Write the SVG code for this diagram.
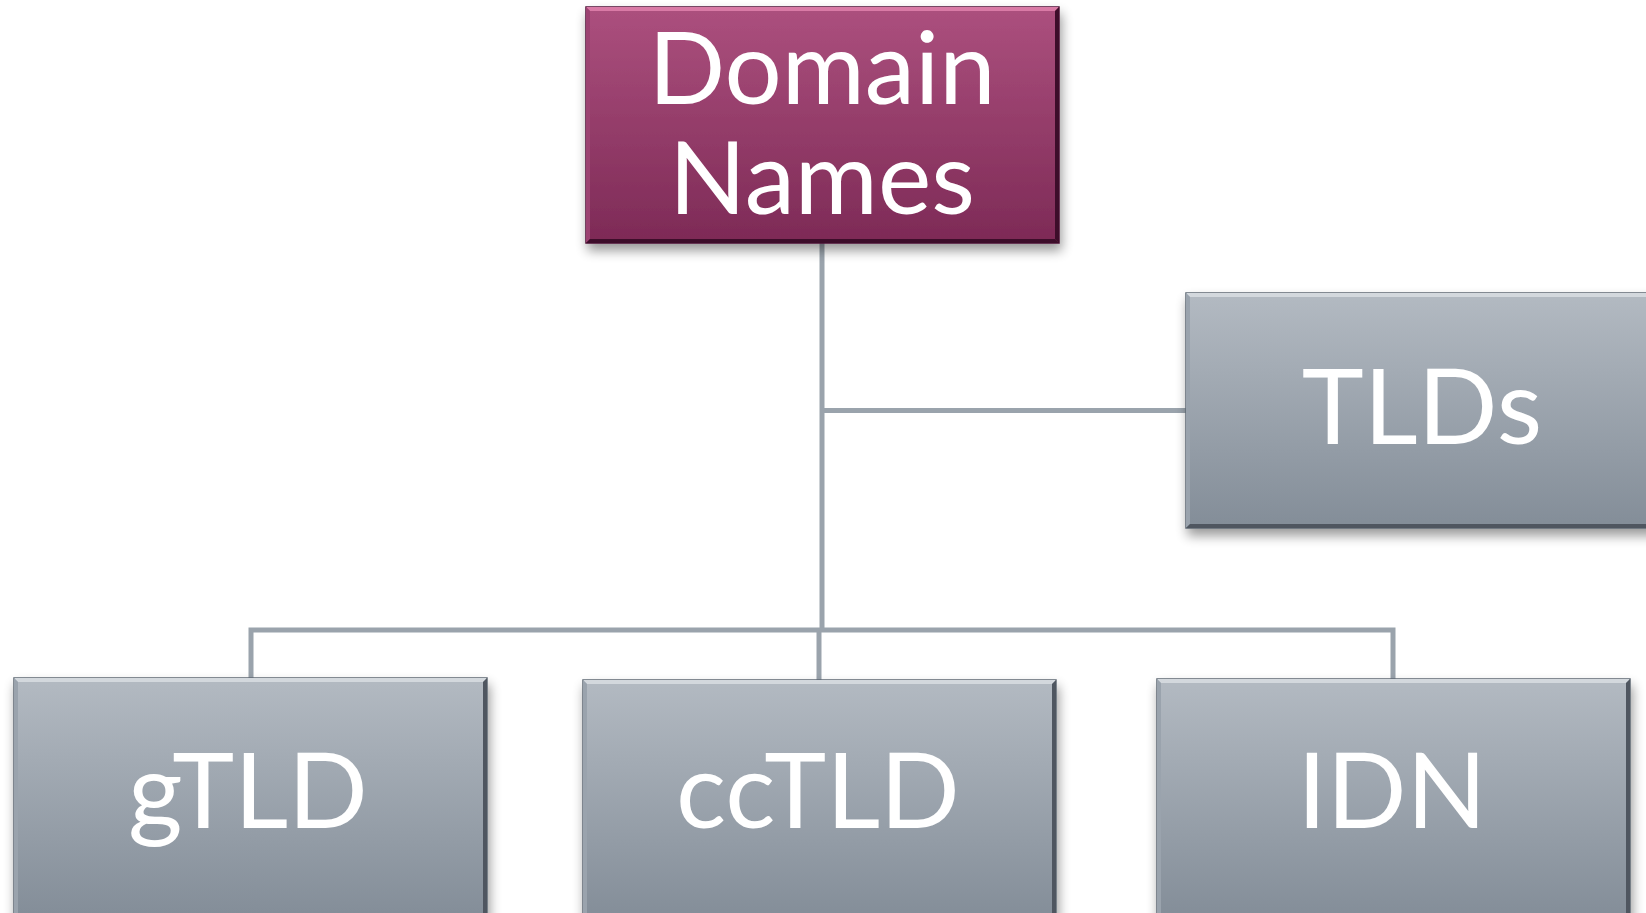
<svg xmlns="http://www.w3.org/2000/svg" width="1646" height="913" viewBox="0 0 1646 913">
  <defs>
    <linearGradient id="gradGray" x1="0" y1="0" x2="0" y2="1">
      <stop offset="0" stop-color="#b3bac2"/>
      <stop offset="1" stop-color="#838d98"/>
    </linearGradient>
    <linearGradient id="gradPlum" x1="0" y1="0" x2="0" y2="1">
      <stop offset="0" stop-color="#ac507e"/>
      <stop offset="1" stop-color="#7d2a56"/>
    </linearGradient>
    <filter id="shadow" x="-10%" y="-10%" width="120%" height="130%">
      <feGaussianBlur in="SourceAlpha" stdDeviation="6"/>
      <feOffset dx="2" dy="7" result="blur"/>
      <feComponentTransfer><feFuncA type="linear" slope="0.4"/></feComponentTransfer>
      <feMerge><feMergeNode/><feMergeNode in="SourceGraphic"/></feMerge>
    </filter>
  </defs>
  <style>
    .label { font-family: "Lato", "Open Sans", "Liberation Sans", sans-serif; font-size: 105px; fill: #ffffff; text-anchor: middle; }
    .root { font-size: 101px; }
    .wire { fill: none; stroke: #9aa3ac; stroke-width: 5; }
    .gray .face { fill: url(#gradGray); stroke: #5e6771; stroke-width: 1.5; }
    .gray .hi { fill: #d3d8dd; }
    .gray .side { fill: #9aa3ad; }
    .gray .lo { fill: #4f5760; }
    .plum .face { fill: url(#gradPlum); stroke: #4e1535; stroke-width: 1.5; }
    .plum .hi { fill: #d97aa6; }
    .plum .side { fill: #9c4272; }
    .plum .lo { fill: #3d0f29; }
  </style>

  <rect width="1646" height="913" fill="#ffffff"/>

  <!-- connectors -->
  <g id="connectors">
    <path class="wire" d="M822 243 V630"/>
    <path class="wire" d="M822 410.5 H1186"/>
    <path class="wire" d="M251 678 V630 H1393 V679"/>
    <path class="wire" d="M819 630 V680"/>
  </g>

  <!-- root node -->
  <g id="node-domain-names" class="plum" filter="url(#shadow)">
    <rect class="face" x="586" y="7" width="473" height="236"/>
    <polygon class="hi" points="586,7 1059,7 1055,11 590,11"/>
    <polygon class="side" points="586,7 590,11 590,239 586,243"/>
    <polygon class="lo" points="1059,7 1059,243 1055,239 1055,11"/>
    <polygon class="lo" points="586,243 1059,243 1055,239 590,239"/>
    <text class="label root" x="822" y="104">Domain</text>
    <text class="label root" x="822" y="214">Names</text>
  </g>

  <g id="node-tlds" class="gray" filter="url(#shadow)">
    <rect class="face" x="1186" y="293" width="473" height="235"/>
    <polygon class="hi" points="1186,293 1659,293 1655,297 1190,297"/>
    <polygon class="side" points="1186,293 1190,297 1190,524 1186,528"/>
    <polygon class="lo" points="1186,528 1659,528 1655,524 1190,524"/>
    <text class="label" x="1422" y="444">TLDs</text>
  </g>

  <g id="node-gtld" class="gray" filter="url(#shadow)">
    <rect class="face" x="14" y="678" width="473" height="240"/>
    <polygon class="hi" points="14,678 487,678 483,682 18,682"/>
    <polygon class="side" points="14,678 18,682 18,918 14,918"/>
    <polygon class="lo" points="487,678 487,918 483,918 483,682"/>
    <text class="label" x="248" y="828">gTLD</text>
  </g>

  <g id="node-cctld" class="gray" filter="url(#shadow)">
    <rect class="face" x="583" y="680" width="473" height="240"/>
    <polygon class="hi" points="583,680 1056,680 1052,684 587,684"/>
    <polygon class="side" points="583,680 587,684 587,920 583,920"/>
    <polygon class="lo" points="1056,680 1056,920 1052,920 1052,684"/>
    <text class="label" x="818" y="828">ccTLD</text>
  </g>

  <g id="node-idn" class="gray" filter="url(#shadow)">
    <rect class="face" x="1157" y="679" width="473" height="240"/>
    <polygon class="hi" points="1157,679 1630,679 1626,683 1161,683"/>
    <polygon class="side" points="1157,679 1161,683 1161,919 1157,919"/>
    <polygon class="lo" points="1630,679 1630,919 1626,919 1626,683"/>
    <text class="label" x="1392" y="828">IDN</text>
  </g>
</svg>
